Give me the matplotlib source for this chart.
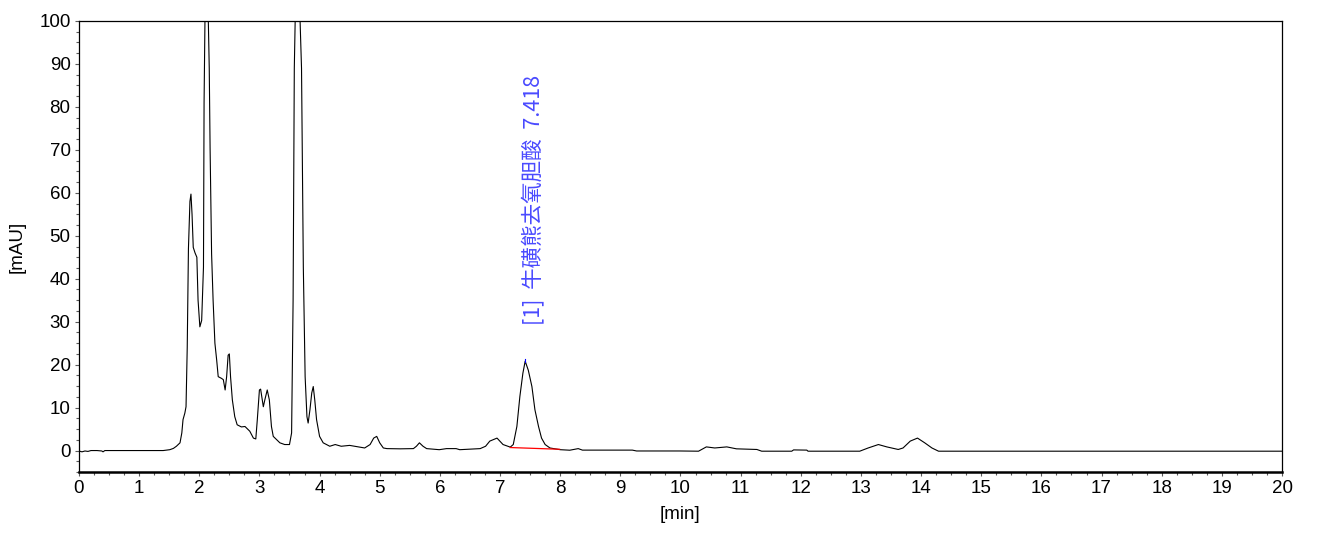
import matplotlib
matplotlib.use("Agg")
import matplotlib.pyplot as plt
from matplotlib.ticker import MultipleLocator

plt.rcParams["font.family"] = ["Liberation Sans", "DejaVu Sans"]

# chromatogram trace (time in min, absorbance in mAU)
time_min = [
    0.00, 0.05, 0.10, 0.15, 0.20, 0.30, 0.38, 0.40, 0.43, 0.60, 0.90, 1.20,
    1.40, 1.46, 1.51, 1.57, 1.62, 1.68, 1.71, 1.73, 1.76, 1.78, 1.80, 1.82,
    1.845, 1.862, 1.88, 1.90, 1.93, 1.96, 1.98, 2.01, 2.04, 2.07, 2.08, 2.095,
    2.12, 2.15, 2.166, 2.18, 2.205, 2.23, 2.26, 2.29, 2.315, 2.37, 2.40, 2.43,
    2.455, 2.48, 2.50, 2.52, 2.55, 2.59, 2.63, 2.70, 2.76, 2.81, 2.84, 2.90,
    2.94, 2.965, 3.00, 3.02, 3.065, 3.09, 3.13, 3.165, 3.20, 3.23, 3.26, 3.34,
    3.42, 3.50, 3.535, 3.56, 3.58, 3.595, 3.635, 3.675, 3.70, 3.73, 3.76, 3.79,
    3.81, 3.84, 3.87, 3.895, 3.92, 3.95, 4.00, 4.06, 4.17, 4.26, 4.36, 4.50,
    4.64, 4.75, 4.84, 4.90, 4.95, 5.00, 5.06, 5.12, 5.34, 5.56, 5.61, 5.66,
    5.72, 5.78, 5.99, 6.11, 6.27, 6.33, 6.67, 6.76, 6.83, 6.95, 7.05, 7.17,
    7.22, 7.28, 7.33, 7.38, 7.418, 7.47, 7.53, 7.58, 7.64, 7.69, 7.75, 7.83,
    8.00, 8.16, 8.30, 8.37, 9.20, 9.27, 9.99, 10.30, 10.43, 10.57, 10.77,
    10.93, 11.27, 11.35, 11.85, 11.88, 12.10, 12.12, 12.98, 13.12, 13.29,
    13.43, 13.62, 13.70, 13.82, 13.94, 14.06, 14.18, 14.29, 15.15, 20.00,
]
signal_mau = [
    -0.1, -0.3, -0.1, -0.2, 0.0, 0.0, -0.1, -0.3, 0.0, 0.0, 0.0, 0.0,
    0.0, 0.1, 0.2, 0.5, 1.0, 1.8, 4.1, 7.2, 8.7, 10.2, 24.0, 47.0,
    58.0, 59.7, 55.0, 47.3, 46.0, 45.0, 35.0, 28.8, 30.3, 42.7, 81.0, 100.5,
    250.0, 100.5, 89.0, 70.4, 45.8, 35.0, 25.0, 21.0, 17.2, 16.8, 16.5, 14.1,
    17.2, 22.2, 22.5, 17.2, 11.8, 7.9, 6.0, 5.5, 5.6, 4.9, 4.5, 2.9,
    2.7, 7.2, 14.1, 14.3, 10.2, 11.8, 14.1, 11.8, 5.6, 3.3, 2.9, 1.8,
    1.4, 1.4, 4.1, 35.0, 89.0, 100.5, 250.0, 100.5, 89.0, 42.7, 17.2, 7.9,
    6.4, 9.5, 13.4, 14.9, 11.8, 7.2, 3.3, 1.8, 1.0, 1.4, 1.0, 1.2,
    0.85, 0.6, 1.4, 2.9, 3.3, 1.8, 0.6, 0.45, 0.4, 0.45, 1.0, 1.8,
    1.0, 0.45, 0.2, 0.45, 0.45, 0.2, 0.45, 1.0, 2.2, 2.9, 1.4, 0.8,
    1.4, 5.6, 12.6, 18.0, 20.8, 18.7, 14.9, 9.5, 5.6, 2.9, 1.4, 0.6,
    0.2, 0.08, 0.45, 0.1, 0.1, -0.1, -0.1, -0.15, 0.85, 0.6, 0.85,
    0.4, 0.25, -0.15, -0.15, 0.15, 0.1, -0.15, -0.15, 0.6, 1.4,
    0.85, 0.25, 0.6, 2.2, 2.9, 1.8, 0.6, -0.15, -0.15, -0.15,
]

# integration baseline of the labelled peak
baseline_t = [7.17, 7.99]
baseline_v = [0.7, 0.3]

peak_rt = 7.418
peak_height = 20.8
peak_label = "[1]  牛磺熊去氧胆酸  7.418"

fig = plt.figure(figsize=(13.27, 5.55), dpi=100)
ax = fig.add_axes([0.0595, 0.1495, 0.9066, 0.8127])

ax.plot(time_min, signal_mau, color="black", lw=0.8)
ax.plot(baseline_t, baseline_v, color="red", lw=0.9)
ax.plot([peak_rt, peak_rt], [peak_height - 0.3, peak_height + 0.5], color="blue", lw=0.8)

ax.text(7.56, 29.2, peak_label, rotation=90, ha="center", va="bottom",
        color="#4a4aff", fontsize=15.5,
        family=["Noto Sans CJK SC", "DejaVu Sans"])

ax.set_xlim(0, 20)
ax.set_ylim(-5, 100)
ax.xaxis.set_major_locator(MultipleLocator(1))
ax.xaxis.set_minor_locator(MultipleLocator(0.25))
ax.yaxis.set_major_locator(MultipleLocator(10))
ax.yaxis.set_minor_locator(MultipleLocator(2.5))
ax.tick_params(which="major", length=3, width=0.8, labelsize=13.5, pad=3,
               color="0.35")
ax.tick_params(which="minor", length=2, width=0.8, color="0.35")

for side in ("top", "right", "left"):
    ax.spines[side].set_linewidth(0.9)
ax.spines["bottom"].set_linewidth(1.8)

ax.set_xlabel("[min]", fontsize=13.5, labelpad=6)
ax.set_ylabel("[mAU]", fontsize=13.5, labelpad=10)

fig.savefig("out.png", dpi=100)
